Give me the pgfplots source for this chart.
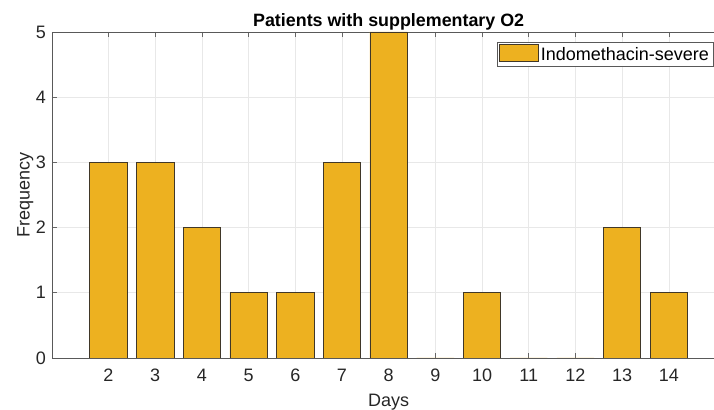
\documentclass[border=0pt]{standalone}
\usepackage{fontspec}
\setmainfont{Liberation Sans}
\usepackage{pgfplots}
\pgfplotsset{compat=1.18}
\definecolor{barfill}{RGB}{237,177,32}
\definecolor{baredge}{RGB}{64,55,40}
\definecolor{axgray}{RGB}{38,38,38}
\begin{document}
\begin{tikzpicture}
\clip (-39pt,-39pt) rectangle (496.5pt,268.5pt);
\begin{axis}[
  scale only axis,
  width=505pt, height=244.5pt,
  at={(0,0)}, anchor=south west,
  xmin=0.79, xmax=15.21,
  ymin=0, ymax=5,
  xtick={2,3,4,5,6,7,8,9,10,11,12,13,14},
  ytick={0,1,2,3,4,5},
  tick align=inside,
  major tick length=4pt,
  tick style={gray!80!black, line width=0.5pt},
  axis line style={gray!70!black, line width=0.6pt},
  grid=major,
  grid style={gray!18, line width=0.5pt},
  ticklabel style={font=\fontsize{13.5}{15}\selectfont, text=axgray},
  xticklabel style={yshift=-5pt},
  yticklabel style={xshift=-1pt},
  /pgf/number format/assume math mode=true,
  xlabel={Days}, ylabel={Frequency},
  label style={font=\fontsize{13.5}{15}\selectfont, text=axgray},
  xlabel style={yshift=-2.5pt},
  ylabel style={yshift=-5pt},
  title={\textbf{Patients with supplementary O2}},
  title style={font=\fontsize{13.4}{16}\selectfont, yshift=-8pt},
  legend style={at={(1,1)}, anchor=north east, xshift=-9pt, yshift=-7.5pt,
    font=\fontsize{13.5}{15}\selectfont, draw=gray!70!black, line width=0.5pt,
    inner sep=1pt, row sep=0pt},
  legend image code/.code={\draw[#1] (0pt,-5pt) rectangle (29pt,8pt);},
  legend cell align=left,
]
\addplot[ybar, bar width=0.8, fill=barfill, draw=baredge, line width=0.5pt]
coordinates {
  (2,3) (3,3) (4,2) (5,1) (6,1) (7,3) (8,5) (9,0)
  (10,1) (11,0) (12,0) (13,2) (14,1)
};
\addlegendentry{Indomethacin-severe}
\end{axis}
\end{tikzpicture}
\end{document}
